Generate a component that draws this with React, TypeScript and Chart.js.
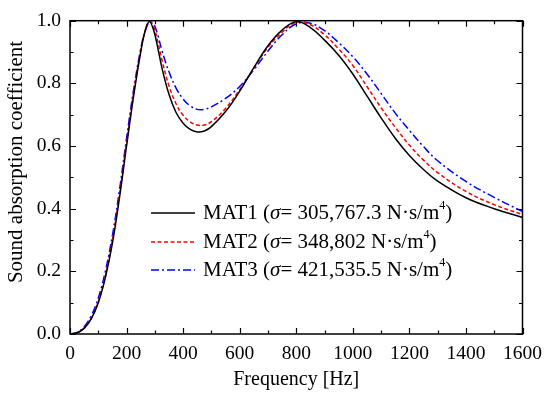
import React, { useEffect, useRef } from "react";
import { Chart, registerables } from "chart.js";

Chart.register(...registerables);

const freq = [0, 25, 50, 75, 100, 125, 150, 175, 200, 225, 250, 265, 280, 295, 310, 325, 350, 375, 400, 425, 450, 475, 500, 550, 600, 650, 700, 750, 800, 850, 900, 950, 1000, 1050, 1100, 1150, 1200, 1250, 1300, 1400, 1500, 1600];

const mat1 = [0, 0.004, 0.018, 0.048, 0.1, 0.18, 0.29, 0.435, 0.6, 0.76, 0.9, 0.965, 0.997, 0.972, 0.915, 0.85, 0.765, 0.707, 0.673, 0.653, 0.645, 0.648, 0.662, 0.71, 0.775, 0.85, 0.92, 0.97, 0.997, 0.978, 0.938, 0.89, 0.83, 0.76, 0.69, 0.625, 0.57, 0.525, 0.488, 0.435, 0.4, 0.372];

const mat2 = [0, 0.004, 0.019, 0.05, 0.103, 0.185, 0.3, 0.445, 0.61, 0.77, 0.905, 0.965, 0.997, 0.982, 0.935, 0.875, 0.792, 0.735, 0.698, 0.677, 0.667, 0.667, 0.678, 0.72, 0.78, 0.848, 0.915, 0.963, 0.995, 0.987, 0.955, 0.91, 0.857, 0.79, 0.722, 0.66, 0.603, 0.555, 0.515, 0.455, 0.413, 0.381];

const mat3 = [0, 0.005, 0.023, 0.058, 0.115, 0.2, 0.315, 0.46, 0.625, 0.78, 0.91, 0.965, 0.995, 0.99, 0.955, 0.905, 0.837, 0.785, 0.75, 0.728, 0.717, 0.717, 0.725, 0.752, 0.79, 0.843, 0.903, 0.955, 0.99, 0.992, 0.968, 0.93, 0.885, 0.83, 0.768, 0.705, 0.65, 0.598, 0.553, 0.487, 0.436, 0.391];

const seriesNames = ["MAT1", "MAT2", "MAT3"];
const sigmaValues = ["305,767.3", "348,802", "421,535.5"];
const seriesColors = ["#000000", "#ff0000", "#0000ff"];
const seriesDashes: number[][] = [[], [4, 2.5], [8, 3, 2, 3]];

const X_MIN = 0, X_MAX = 1600, X_MAJOR = 200, X_MINOR = 100;
const Y_MIN = 0, Y_MAX = 1, Y_MAJOR = 0.2, Y_MINOR = 0.1;

const xTitle = "Frequency [Hz]";
const yTitle = "Sound absorption coefficient";

const FONT = "'Liberation Serif', 'Times New Roman', serif";

const frameTicks = {
  id: "frameTicks",
  afterDatasetsDraw(chart: any) {
    const { ctx, chartArea, scales } = chart;
    const { left, right, top, bottom } = chartArea;
    const x = scales.x, y = scales.y;
    ctx.save();
    ctx.strokeStyle = "#000";
    ctx.lineWidth = 1.2;
    ctx.beginPath();
    const nx = Math.round((X_MAX - X_MIN) / X_MINOR);
    for (let i = 0; i <= nx; i++) {
      const v = X_MIN + i * X_MINOR;
      const px = Math.round(x.getPixelForValue(v)) + 0.5;
      const len = i % Math.round(X_MAJOR / X_MINOR) === 0 ? 6 : 3.5;
      ctx.moveTo(px, bottom);
      ctx.lineTo(px, bottom - len);
      ctx.moveTo(px, top);
      ctx.lineTo(px, top + len);
    }
    const ny = Math.round((Y_MAX - Y_MIN) / Y_MINOR);
    for (let i = 0; i <= ny; i++) {
      const v = Y_MIN + i * Y_MINOR;
      const py = Math.round(y.getPixelForValue(v)) + 0.5;
      const len = i % Math.round(Y_MAJOR / Y_MINOR) === 0 ? 6 : 3.5;
      ctx.moveTo(left, py);
      ctx.lineTo(left + len, py);
      ctx.moveTo(right, py);
      ctx.lineTo(right - len, py);
    }
    ctx.stroke();
    ctx.lineWidth = 1.5;
    ctx.strokeRect(left, top, right - left, bottom - top);

    // y-axis title
    ctx.save();
    ctx.translate(16.5, 162);
    ctx.rotate(-Math.PI / 2);
    ctx.font = `21px ${FONT}`;
    ctx.fillStyle = "#000";
    ctx.textAlign = "center";
    ctx.textBaseline = "middle";
    ctx.fillText(yTitle, 0, 0);
    ctx.restore();

    // legend
    const fs = 21;
    const lx0 = 151, lx1 = 195, tx = 203;
    const rows = [213, 242, 270];
    ctx.textBaseline = "middle";
    ctx.textAlign = "left";
    for (let i = 0; i < seriesNames.length; i++) {
      const ry = rows[i];
      ctx.strokeStyle = seriesColors[i];
      ctx.lineWidth = 1.5;
      ctx.setLineDash(seriesDashes[i]);
      ctx.beginPath();
      ctx.moveTo(lx0, ry);
      ctx.lineTo(lx1, ry);
      ctx.stroke();
      ctx.setLineDash([]);
      ctx.fillStyle = "#000";
      let cx = tx;
      const seg = (t: string, style: string, dy = 0, size = fs) => {
        ctx.font = `${style} ${size}px ${FONT}`;
        ctx.fillText(t, cx, ry + dy);
        cx += ctx.measureText(t).width;
      };
      seg(seriesNames[i] + " (", "normal");
      seg("\u03c3", "italic");
      seg("= " + sigmaValues[i] + " N\u00b7s/m", "normal");
      seg("4", "normal", -7, 12);
      seg(")", "normal");
    }
    ctx.restore();
  },
};

export default function App() {
  const ref = useRef<HTMLCanvasElement | null>(null);
  useEffect(() => {
    if (!ref.current) return;
    const mats = [mat1, mat2, mat3];
    const chart = new Chart(ref.current, {
      type: "line",
      data: {
        datasets: mats.map((m, i) => ({
          label: seriesNames[i],
          data: freq.map((f, j) => ({ x: f, y: m[j] })),
          borderColor: seriesColors[i],
          borderWidth: 1.5,
          borderDash: seriesDashes[i],
          pointRadius: 0,
          fill: false,
          tension: 0.4,
        })),
      },
      options: {
        responsive: false,
        animation: false,
        devicePixelRatio: 1,
        layout: { padding: { left: 0, right: 27, top: 17, bottom: 0 } },
        plugins: { legend: { display: false }, tooltip: { enabled: false } },
        scales: {
          x: {
            type: "linear",
            min: X_MIN,
            max: X_MAX,
            grid: { display: false, drawTicks: false },
            border: { display: false },
            ticks: {
              stepSize: X_MAJOR,
              padding: 8,
              color: "#000",
              font: { family: FONT, size: 19.5 },
              maxRotation: 0,
              callback: (v: any) => String(v),
            },
            title: {
              display: true,
              text: xTitle,
              color: "#000",
              font: { family: FONT, size: 20 },
              padding: { top: 0, bottom: 4 },
            },
            afterFit: (s: any) => { s.height = 62; },
          },
          y: {
            type: "linear",
            min: Y_MIN,
            max: Y_MAX,
            grid: { display: false, drawTicks: false },
            border: { display: false },
            ticks: {
              stepSize: Y_MAJOR,
              padding: 9,
              color: "#000",
              font: { family: FONT, size: 19.5 },
              callback: (v: any) => Number(v).toFixed(1),
            },
            title: { display: false, text: yTitle },
            afterFit: (s: any) => { s.width = 70; },
          },
        },
      },
      plugins: [frameTicks],
    });
    return () => chart.destroy();
  }, []);
  return (
    <div style={{ position: "fixed", left: 0, top: 0, width: 550, height: 396, background: "#fff" }}>
      <canvas ref={ref} width={550} height={396} />
    </div>
  );
}
